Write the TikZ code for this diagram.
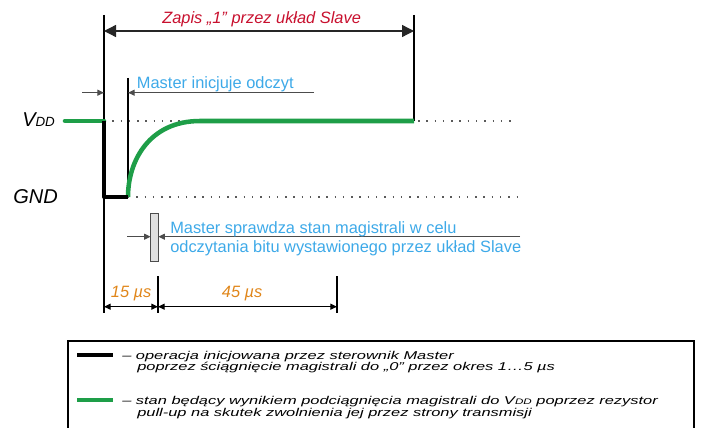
\documentclass[tikz,border=0pt]{standalone}
\usepackage{fontspec}
\setmainfont{Liberation Sans}
\newfontfamily\legendfont[FakeStretch=1.45]{Liberation Sans}
\usetikzlibrary{arrows.meta}

\definecolor{busgreen}{RGB}{30,158,72}
\definecolor{titlered}{RGB}{200,16,46}
\definecolor{infoblue}{RGB}{61,169,232}
\definecolor{timeorange}{RGB}{224,134,26}

\begin{document}
\begin{tikzpicture}[x=0.75pt,y=-0.75pt,
  txt/.style={inner sep=0pt,font=\fontsize{12.3pt}{14pt}\selectfont},
  lvl/.style={inner sep=0pt,font=\fontsize{15pt}{17pt}\selectfont\itshape},
  leg/.style={inner sep=0pt,anchor=base west,font=\legendfont\itshape\fontsize{8.5pt}{8.7pt}\selectfont},
  tip/.style={-{Triangle[length=5pt,width=4.5pt]}},
  bigtip/.style={{Triangle[length=9pt,width=9pt]}-{Triangle[length=9pt,width=9pt]}},
  dimtip/.style={{Triangle[length=5pt,width=4.5pt]}-{Triangle[length=5pt,width=4.5pt]}},
  dots/.style={color=black!65,line width=1.1pt,dash pattern=on 1.1pt off 5.1pt}]
\useasboundingbox (0,0) rectangle (701,428);

% bus levels
\coordinate (S0) at (65,121);
\coordinate (S1) at (104,121);
\coordinate (S2) at (104,197);
\coordinate (S3) at (128,197);
\coordinate (S4) at (200,121);
\coordinate (S5) at (414,121);
\coordinate (VddEnd) at (517,121);
\coordinate (GndEnd) at (517,197);

% time slot
\coordinate (A) at (104,15);
\coordinate (Abot) at (104,313);
\coordinate (B) at (414,15);
\coordinate (TA) at (104,31);
\coordinate (TB) at (414,31);

% master init
\coordinate (R0) at (128,78);
\coordinate (I0) at (82,92.7);
\coordinate (I1) at (104,92.7);
\coordinate (I2) at (128,92.7);
\coordinate (I3) at (314,92.7);

% sampling
\coordinate (P0) at (150.7,213.3);
\coordinate (P1) at (158.3,261);
\coordinate (Q0) at (127,236.7);
\coordinate (Q1) at (150.7,236.7);
\coordinate (Q2) at (158.3,236.7);
\coordinate (Q3) at (520,236.7);

% time marks
\coordinate (D0) at (104,306.7);
\coordinate (D1) at (158,306.7);
\coordinate (D2) at (337,306.7);
\coordinate (M1) at (158,276);
\coordinate (M1b) at (158,313);
\coordinate (M2) at (337,276);
\coordinate (M2b) at (337,313);

\draw[dots] (S1)--(VddEnd);
\draw[dots] (S3)--(GndEnd);

\draw[line width=0.8pt] (A)--(Abot);
\draw[line width=0.8pt] (B)--(S5);
\draw[line width=0.8pt] (R0)--(S3);
\draw[line width=0.8pt] (M1)--(M1b);
\draw[line width=0.8pt] (M2)--(M2b);

\draw[bigtip,line width=1pt,color=black!85] (TA)--(TB);
\draw[tip,line width=0.8pt,color=black!70] (I0)--(I1);
\draw[tip,line width=0.8pt,color=black!70] (I3)--(I2);
\draw[tip,line width=0.8pt,color=black!70] (Q0)--(Q1);
\draw[tip,line width=0.8pt,color=black!70] (Q3)--(Q2);
\draw[dimtip,line width=0.8pt] (D0)--(D1);
\draw[dimtip,line width=0.8pt] (D1)--(D2);

\draw[fill=black!12,draw=black!70,line width=0.7pt] (P0) rectangle (P1);

\draw[color=busgreen,line width=3.4pt,line cap=round] (S0)--(S1);
\draw[color=busgreen,line width=3.4pt] (S3) .. controls (128,160) and (150,121) .. (S4)--(S5);
\draw[line width=3.1pt,line join=round] (S1)--(S2)--(S3);

\node (vdd) at (22,127) [lvl,anchor=base west] {V{\fontsize{10pt}{12pt}\selectfont DD}};
\node (gnd) at (13,204) [lvl,anchor=base west] {GND};

\node (title) at (162,23.3) [txt,anchor=base west,color=titlered] {\itshape Zapis „1” przez układ Slave};
\node (init) at (136.7,88.3) [txt,anchor=base west,color=infoblue] {Master inicjuje odczyt};
\node (samp1) at (170,233.3) [txt,anchor=base west,color=infoblue] {Master sprawdza stan magistrali w celu};
\node (samp2) at (170,252.3) [txt,anchor=base west,color=infoblue] {odczytania bitu wystawionego przez układ Slave};
\node (t15) at (110.7,297) [txt,anchor=base west,color=timeorange] {\itshape 15 µs};
\node (t45) at (221.7,297) [txt,anchor=base west,color=timeorange] {\itshape 45 µs};

% legend
\draw[line width=0.8pt] (68,440)--(68,341)--(694,341)--(694,440);
\coordinate (LA0) at (77,355);
\coordinate (LA1) at (113,355);
\coordinate (LB0) at (77,400);
\coordinate (LB1) at (113,400);
\draw[line width=3.1pt] (LA0)--(LA1);
\draw[color=busgreen,line width=3.4pt] (LB0)--(LB1);
\node (legA1) at (122,359.3) [leg] {– operacja inicjowana przez sterownik Master};
\node (legA2) at (137,370.6) [leg] {poprzez ściągnięcie magistrali do „0” przez okres 1…5 µs};
\node (legB1) at (122,404.8) [leg] {– stan będący wynikiem podciągnięcia magistrali do V{\fontsize{6pt}{7pt}\selectfont DD} poprzez rezystor};
\node (legB2) at (137,416) [leg] {pull-up na skutek zwolnienia jej przez strony transmisji};

\end{tikzpicture}
\end{document}
